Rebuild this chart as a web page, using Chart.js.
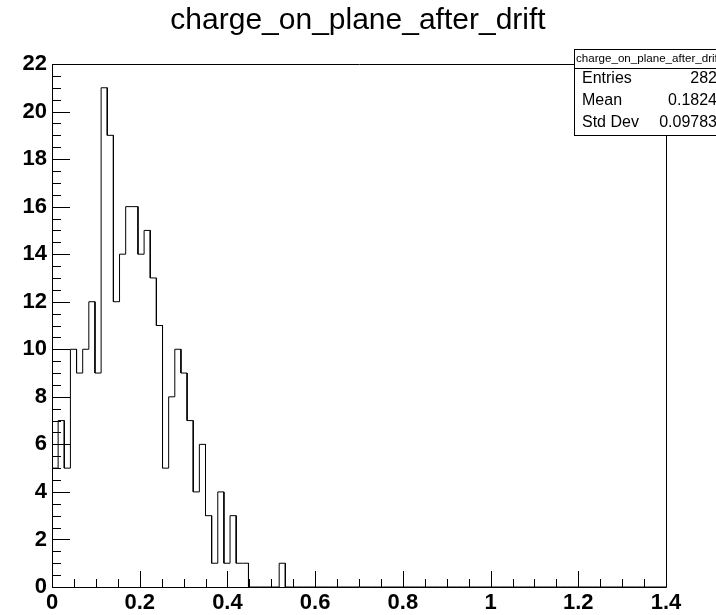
<!DOCTYPE html>
<html>
<head>
<meta charset="utf-8">
<script src="https://cdn.jsdelivr.net/npm/chart.js@4"></script>
<style>
  body { margin: 0; background: #fff; }
  #wrap { width: 716px; height: 615px; }
</style>
</head>
<body>
<div id="wrap"><canvas id="histo" width="716" height="615"></canvas></div>
<script>
// histogram binning
const xMin = 0;
const xMax = 1.4;
const nBins = 100;

// bin contents
const counts = [
    5, 7, 5, 10, 9, 10, 12, 9, 21, 19,
    12, 14, 16, 16, 14, 15, 13, 11, 5, 8,
    10, 9, 7, 4, 6, 3, 1, 4, 1, 3,
    1, 1, 0, 0, 0, 0, 0, 1, 0, 0,
    0, 0, 0, 0, 0, 0, 0, 0, 0, 0,
    0, 0, 0, 0, 0, 0, 0, 0, 0, 0,
    0, 0, 0, 0, 0, 0, 0, 0, 0, 0,
    0, 0, 0, 0, 0, 0, 0, 0, 0, 0,
    0, 0, 0, 0, 0, 0, 0, 0, 0, 0,
    0, 0, 0, 0, 0, 0, 0, 0, 0, 0
];

const histTitle = 'charge_on_plane_after_drift';
const statsName = 'charge_on_plane_after_drift';
const statsLabels = ['Entries', 'Mean', 'Std Dev'];
const statsValues = ['282', '0.1824', '0.09783'];

const yMin = 0;
const yMax = 22;

// outline of the histogram as step points
const binWidth = (xMax - xMin) / nBins;
const outline = [];
counts.forEach((c, i) => {
    const lo = xMin + i * binWidth;
    outline.push({ x: lo, y: c });
    outline.push({ x: lo + binWidth, y: c });
});

const fontFam = '"Liberation Sans", Arial, Helvetica, sans-serif';

// frame, ROOT style ticks (inside the frame) and the stats box
const rootDecor = {
    id: 'rootDecor',
    afterDraw(chart) {
        const ctx = chart.ctx;
        const a = chart.chartArea;
        const xs = chart.scales.x;
        const ys = chart.scales.y;
        ctx.save();
        ctx.strokeStyle = '#000';
        ctx.lineWidth = 1;

        ctx.beginPath();
        ctx.rect(Math.round(a.left) + 0.5, Math.round(a.top) + 0.5,
                 Math.round(a.right - a.left), Math.round(a.bottom - a.top));
        ctx.stroke();

        // x ticks: major every 0.2, minor every 0.05
        ctx.beginPath();
        for (let k = 0; k <= 28; k++) {
            const v = k * 0.05;
            const px = Math.round(xs.getPixelForValue(v)) + 0.5;
            const len = (k % 4 === 0) ? 16 : 8;
            ctx.moveTo(px, a.bottom);
            ctx.lineTo(px, a.bottom - len);
        }
        // y ticks: major every 2, minor every 0.5
        for (let k = 0; k <= 44; k++) {
            const v = k * 0.5;
            const py = Math.round(ys.getPixelForValue(v)) + 0.5;
            const len = (k % 4 === 0) ? 18 : 9;
            ctx.moveTo(a.left, py);
            ctx.lineTo(a.left + len, py);
        }
        ctx.stroke();

        // stats box
        const bx = 574.5, by = 49.5, bw = 160, bh = 86;
        ctx.fillStyle = '#fff';
        ctx.fillRect(bx, by, bw, bh);
        ctx.strokeRect(bx, by, bw, bh);
        ctx.beginPath();
        ctx.moveTo(bx, 68.5);
        ctx.lineTo(bx + bw, 68.5);
        ctx.stroke();

        ctx.fillStyle = '#000';
        ctx.textBaseline = 'middle';
        ctx.font = '11.6px ' + fontFam;
        ctx.textAlign = 'left';
        ctx.fillText(statsName, 576, 59);

        ctx.font = '16px ' + fontFam;
        const rowY = [79, 101, 123];
        statsLabels.forEach((lab, i) => {
            ctx.textAlign = 'left';
            ctx.fillText(lab, 582, rowY[i]);
            ctx.textAlign = 'right';
            ctx.fillText(statsValues[i], 717, rowY[i]);
        });
        ctx.restore();
    }
};

const ctx = document.getElementById('histo').getContext('2d');
const histChart = new Chart(ctx, {
    type: 'line',
    data: {
        datasets: [{
            data: outline,
            borderColor: '#000',
            borderWidth: 1,
            pointRadius: 0,
            tension: 0,
            fill: false
        }]
    },
    options: {
        responsive: false,
        animation: false,
        events: [],
        layout: { padding: 0 },
        plugins: {
            legend: { display: false },
            tooltip: { enabled: false },
            title: {
                display: true,
                text: histTitle,
                color: '#000',
                font: { family: fontFam, size: 30, weight: 'normal', lineHeight: 1.2 },
                padding: { top: 3, bottom: 25 }
            }
        },
        scales: {
            x: {
                type: 'linear',
                min: xMin,
                max: xMax,
                grid: { display: false, drawTicks: false, tickLength: 0 },
                border: { display: false },
                afterFit: s => { s.height = 28; s.paddingRight = 50; },
                ticks: {
                    stepSize: 0.2,
                    autoSkip: false,
                    maxRotation: 0,
                    padding: 3,
                    color: '#000',
                    font: { family: fontFam, size: 22, weight: 'bold' },
                    callback: v => String(Number(v.toFixed(1)))
                }
            },
            y: {
                min: yMin,
                max: yMax,
                grid: { display: false, drawTicks: false, tickLength: 0 },
                border: { display: false },
                afterFit: s => { s.width = 52; },
                ticks: {
                    stepSize: 2,
                    autoSkip: false,
                    padding: 5,
                    color: '#000',
                    font: { family: fontFam, size: 22, weight: 'bold' },
                    callback: v => String(v)
                }
            }
        }
    },
    plugins: [rootDecor]
});
</script>
</body>
</html>
